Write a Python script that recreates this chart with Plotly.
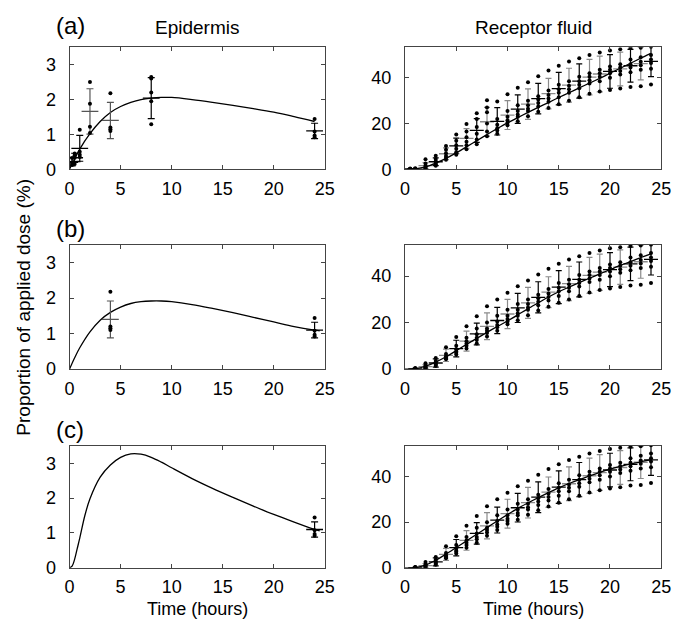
import plotly.graph_objects as go

# ---------------- data ----------------
# Epidermis measurements (hours, % of applied dose)
ep_t = [0.25, 0.5, 1, 2, 4, 8, 24]
ep_mean = [0.22, 0.33, 0.6, 1.66, 1.4, 2.04, 1.1]
ep_sd = [0.12, 0.13, 0.37, 0.65, 0.52, 0.59, 0.22]
ep_dots = [
    [0.32, 0.2, 0.15, 0.12],
    [0.45, 0.4, 0.33, 0.15],
    [1.13, 0.5, 0.42, 0.35],
    [2.5, 1.88, 1.22, 1.04],
    [2.18, 1.2, 1.15, 1.1],
    [2.65, 2.6, 2.2, 1.95, 1.29],
    [1.44, 1.08, 0.97, 0.92],
]
ep_times_a = [0.25, 0.5, 1, 2, 4, 8, 24]
ep_times_b = [4, 24]
ep_times_c = [24]

# Epidermis model curves
ep_fit_t_a = [0, 0.5, 1, 2, 3, 4, 5, 6, 7, 8, 9, 10, 12, 14, 16, 18, 20, 22, 24]
ep_fit_a = [0, 0.3, 0.58, 1.02, 1.37, 1.63, 1.8, 1.92, 2.0, 2.04, 2.06, 2.06,
            2.0, 1.92, 1.83, 1.74, 1.64, 1.51, 1.37]
ep_fit_t_b = [0, 0.5, 1, 2, 3, 4, 5, 6, 7, 8, 9, 10, 12, 14, 16, 18, 20, 22, 24, 24.5]
ep_fit_b = [0, 0.32, 0.6, 1.05, 1.38, 1.6, 1.75, 1.85, 1.9, 1.92, 1.92, 1.9,
            1.82, 1.71, 1.59, 1.46, 1.33, 1.2, 1.1, 1.08]
ep_fit_t_c = [0, 0.25, 0.5, 0.75, 1, 1.5, 2, 3, 4, 5, 6, 7, 8, 9, 10, 12, 14, 16,
              18, 20, 22, 24, 24.5]
ep_fit_c = [0, 0.05, 0.25, 0.55, 0.85, 1.5, 1.98, 2.6, 2.95, 3.17, 3.27, 3.26,
            3.17, 3.03, 2.87, 2.56, 2.28, 2.02, 1.77, 1.53, 1.31, 1.1, 1.06]

# Receptor fluid measurements, panels (b) and (c)
rf_t_bc = [1, 2, 3, 4, 5, 6, 7, 8, 9, 10, 11, 12, 13, 14, 15, 16, 17, 18, 19,
           20, 21, 22, 23, 24]
rf_mean_bc = [0.1, 1.0, 2.6, 5.9, 8.8, 12.0, 15.1, 18.4, 20.9, 23.7, 26.3, 28.5,
              30.9, 33.1, 35.3, 36.8, 38.6, 40.3, 41.7, 42.8, 43.9, 45.3, 46.2, 47.2]
rf_sd_bc = [0.15, 0.9, 1.75, 2.65, 3.6, 4.3, 4.7, 5.75, 5.65, 6.3, 6.25, 6.7,
            6.7, 6.65, 7.1, 7.4, 7.5, 7.75, 7.8, 7.35, 7.4, 7.2, 7.1, 6.7]
rf_dots_bc = [
    [0.4, 0.2, 0.1, 0.1, 0.0, 0.0],
    [2.5, 1.5, 1.0, 0.8, 0.5, 0.3],
    [4.7, 3.5, 2.8, 2.2, 1.8, 1.3],
    [9.4, 6.5, 5.5, 5.0, 4.6, 4.2],
    [13.8, 10.0, 8.5, 7.5, 7.0, 6.3],
    [18.4, 13.5, 12.0, 11.0, 10.0, 8.8],
    [22.7, 17.5, 15.0, 13.5, 12.5, 11.0],
    [27.0, 20.0, 17.5, 16.5, 15.5, 14.0],
    [30.0, 23.0, 20.5, 19.0, 18.0, 16.5],
    [32.8, 25.5, 23.0, 21.5, 20.5, 19.3],
    [35.7, 28.0, 25.5, 24.0, 23.0, 21.0],
    [38.1, 30.0, 28.0, 26.5, 25.5, 23.2],
    [40.7, 32.0, 30.5, 29.0, 27.5, 25.2],
    [43.2, 34.5, 32.5, 31.0, 29.5, 26.8],
    [45.3, 37.0, 35.0, 33.5, 31.5, 28.5],
    [47.2, 38.5, 36.5, 35.0, 33.5, 30.0],
    [48.6, 40.5, 38.5, 37.0, 35.5, 31.5],
    [50.0, 42.0, 40.5, 39.0, 37.5, 33.0],
    [51.1, 43.5, 42.0, 40.5, 38.5, 34.0],
    [52.0, 45.0, 43.5, 42.0, 40.0, 34.7],
    [52.5, 46.0, 44.5, 43.0, 41.5, 35.3],
    [53.0, 48.0, 46.0, 44.5, 42.5, 36.0],
    [53.2, 49.0, 47.0, 45.5, 43.5, 36.3],
    [53.6, 50.0, 48.0, 46.5, 44.0, 37.1],
]

# Receptor fluid measurements, panel (a): early hours differ, later hours as above
rf_t_a_early = [0.5, 1, 2, 3, 4, 5, 6, 7, 8, 9]
rf_mean_a_early = [0.05, 0.1, 1.6, 3.3, 6.8, 10.2, 13.5, 17.0, 20.8, 21.0]
rf_sd_a_early = [0.1, 0.2, 1.3, 1.7, 2.6, 3.4, 4.3, 5.2, 6.3, 6.0]
rf_dots_a_early = [
    [0.3, 0.1, 0.0, 0.0, 0.0, 0.0],
    [0.4, 0.2, 0.1, 0.1, 0.0, 0.0],
    [4.4, 2.5, 1.5, 1.0, 0.6, 0.3],
    [5.9, 4.5, 3.5, 2.8, 2.2, 1.5],
    [10.2, 8.5, 7.0, 5.8, 5.0, 4.2],
    [15.2, 12.5, 10.5, 9.0, 7.5, 6.3],
    [19.8, 16.5, 14.0, 12.0, 10.5, 8.8],
    [24.5, 22.0, 18.5, 15.5, 13.0, 11.0],
    [30.2, 27.0, 25.0, 20.0, 16.5, 14.5],
    [29.7, 22.0, 19.5, 18.0, 17.0, 15.5],
]
rf_t_a = rf_t_a_early + rf_t_bc[9:]
rf_mean_a = rf_mean_a_early + rf_mean_bc[9:]
rf_sd_a = rf_sd_a_early + rf_sd_bc[9:]
rf_dots_a = rf_dots_a_early + rf_dots_bc[9:]

# Receptor fluid model curves
rf_fit_t = [0, 1, 2, 3, 4, 5, 6, 7, 8, 9, 10, 11, 12, 13, 14, 15, 16, 17, 18,
            19, 20, 21, 22, 23, 24]
rf_fit_a = [0, 0.2, 1.0, 2.7, 4.8, 7.2, 9.8, 12.5, 15.2, 17.8, 20.3, 22.6, 24.9,
            27.1, 29.2, 31.4, 33.5, 35.6, 37.7, 39.8, 42.0, 44.2, 46.4, 48.6, 50.7]
rf_fit_b = [0, 0.2, 1.2, 3.0, 5.3, 7.9, 10.6, 13.2, 15.8, 18.3, 20.7, 23.3, 26.0,
            28.5, 31.0, 33.3, 35.3, 37.2, 39.1, 41.0, 42.8, 44.6, 46.3, 48.0, 49.6]
rf_fit_c = [0, 0.1, 1.2, 3.3, 6.0, 8.9, 11.8, 14.7, 17.6, 20.5, 23.3, 26.0, 28.4,
            30.7, 32.9, 35.0, 36.9, 38.6, 40.2, 41.8, 43.2, 44.4, 45.5, 46.4, 47.2]

# style: receptor-fluid hours whose error bars are drawn in black (others grey)
rf_black_times = [0.5, 1, 3, 5, 7, 9, 11, 13, 15, 17, 20, 22, 24]
ep_grey_times = [2, 4]

x_ticks = [0, 5, 10, 15, 20, 25]
ep_y_ticks = [0, 1, 2, 3]
rf_y_ticks = [0, 20, 40]
panel_labels = ["(a)", "(b)", "(c)"]
col_titles = ["Epidermis", "Receptor fluid"]
x_title = "Time (hours)"
y_title = "Proportion of applied dose (%)"

# ---------------- figure ----------------
W, H = 682, 629
FONT = "Liberation Sans, Arial, Helvetica, sans-serif"
BLACK = "#000000"
GREY = "#8a8a8a"

rows_px = [(48, 172), (249, 375), (453, 577)]
cols_px = [(66, 327), (409, 671)]

fig = go.Figure()


def axis_names(n):
    return ("x" if n == 1 else f"x{n}"), ("y" if n == 1 else f"y{n}")


def add_group(xa, ya, ts, means, sds, dots, color, dash_size, cap):
    if not ts:
        return
    dx, dy = [], []
    for t, d in zip(ts, dots):
        dx += [t] * len(d)
        dy += d
    fig.add_trace(go.Scatter(
        x=ts, y=means, mode="markers", xaxis=xa, yaxis=ya, showlegend=False,
        marker=dict(symbol="line-ew", size=dash_size, color=color,
                    line=dict(color=color, width=1.3)),
        error_y=dict(type="data", array=sds, visible=True, color=color,
                     thickness=1.2, width=cap)))
    fig.add_trace(go.Scatter(
        x=dx, y=dy, mode="markers", xaxis=xa, yaxis=ya, showlegend=False,
        marker=dict(symbol="circle", size=4, color=BLACK)))


ep_fits = [(ep_fit_t_a, ep_fit_a), (ep_fit_t_b, ep_fit_b), (ep_fit_t_c, ep_fit_c)]
ep_sel = [ep_times_a, ep_times_b, ep_times_c]
rf_fits = [rf_fit_a, rf_fit_b, rf_fit_c]
rf_sets = [(rf_t_a, rf_mean_a, rf_sd_a, rf_dots_a),
           (rf_t_bc, rf_mean_bc, rf_sd_bc, rf_dots_bc),
           (rf_t_bc, rf_mean_bc, rf_sd_bc, rf_dots_bc)]

layout_axes = {}
for r in range(3):
    for c in range(2):
        n = r * 2 + c + 1
        xa, ya = axis_names(n)
        if c == 0:
            ft, fv = ep_fits[r]
            fig.add_trace(go.Scatter(x=ft, y=fv, mode="lines", xaxis=xa, yaxis=ya,
                                     line=dict(color=BLACK, width=1.3, shape="spline",
                                               smoothing=1.0), showlegend=False))
            for grey in (True, False):
                idx = [i for i, t in enumerate(ep_t)
                       if t in ep_sel[r] and ((t in ep_grey_times) == grey)]
                add_group(xa, ya, [ep_t[i] for i in idx], [ep_mean[i] for i in idx],
                          [ep_sd[i] for i in idx], [ep_dots[i] for i in idx],
                          "#555555" if grey else BLACK, 12, 3.5)
            yr, yt = [0, 3.5], ep_y_ticks
        else:
            ts, ms, ss, ds = rf_sets[r]
            for grey in (True, False):
                idx = [i for i, t in enumerate(ts) if (t not in rf_black_times) == grey]
                add_group(xa, ya, [ts[i] for i in idx], [ms[i] for i in idx],
                          [ss[i] for i in idx], [ds[i] for i in idx],
                          GREY if grey else BLACK, 10, 3)
            fig.add_trace(go.Scatter(x=rf_fit_t, y=rf_fits[r], mode="lines",
                                     xaxis=xa, yaxis=ya,
                                     line=dict(color=BLACK, width=1.3, shape="spline",
                                               smoothing=0.8), showlegend=False))
            yr, yt = [0, 53.4], rf_y_ticks
        x0, x1 = cols_px[c]
        top, bot = rows_px[r]
        common = dict(showline=True, linecolor="#444444", linewidth=1, mirror="ticks",
                      ticks="inside", ticklen=4, tickcolor="#444444", showgrid=False,
                      zeroline=False, tickfont=dict(family=FONT, size=18, color=BLACK))
        layout_axes["xaxis" if n == 1 else f"xaxis{n}"] = dict(
            common, domain=[x0 / W, x1 / W], range=[0, 25], tickvals=x_ticks,
            anchor=ya, ticklabelstandoff=3)
        layout_axes["yaxis" if n == 1 else f"yaxis{n}"] = dict(
            common, domain=[1 - bot / H, 1 - top / H], range=yr, tickvals=yt,
            anchor=xa, ticklabelstandoff=9)

fig.update_layout(**layout_axes)

ann = []
label_pos = [(67, 26), (67, 232), (66, 436)]
for r in range(3):
    ann.append(dict(text=panel_labels[r], x=label_pos[r][0] / W,
                    y=1 - label_pos[r][1] / H,
                    font=dict(family=FONT, size=24, color=BLACK)))
for c in range(2):
    x0, x1 = cols_px[c]
    ann.append(dict(text=col_titles[c], x=(x0 + x1) / 2 / W, y=1 - 28 / H,
                    font=dict(family=FONT, size=19, color=BLACK)))
    ann.append(dict(text=x_title, x=(x0 + x1) / 2 / W, y=1 - 619 / H,
                    font=dict(family=FONT, size=18, color=BLACK)))
ann.append(dict(text=y_title, x=18 / W, y=1 - 312 / H, textangle=-90,
                font=dict(family=FONT, size=19, color=BLACK)))
for a in ann:
    a.update(xref="paper", yref="paper", showarrow=False, xanchor="center",
             yanchor="middle", borderpad=0)

fig.update_layout(width=W, height=H, margin=dict(l=0, r=0, t=0, b=0),
                  paper_bgcolor="white", plot_bgcolor="white", annotations=ann,
                  showlegend=False)

fig.write_html("out.html", config={"displayModeBar": False},
               post_script="document.body.style.margin='0px';"
                           "document.body.style.overflow='hidden';")
